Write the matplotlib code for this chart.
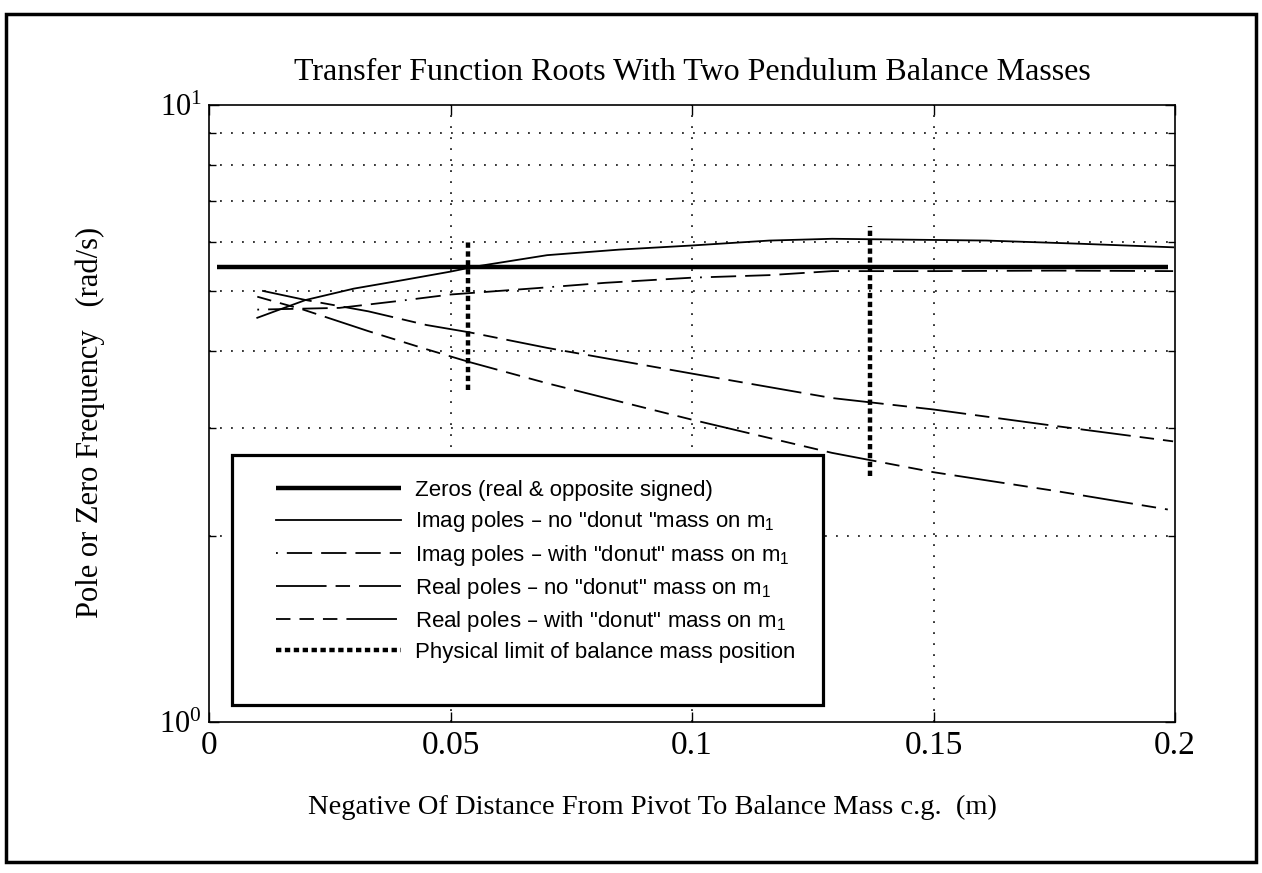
import matplotlib
matplotlib.use('Agg')
import matplotlib.pyplot as plt
from matplotlib.ticker import LogLocator, NullFormatter, FixedLocator
from matplotlib.patches import Rectangle

# データ
x_zero = [0.0017, 0.1985]
y_zero = [5.47, 5.47]

x_imag_no = [0.01, 0.02, 0.03, 0.04, 0.05, 0.055, 0.07, 0.085, 0.1, 0.116, 0.129, 0.137, 0.161, 0.18, 0.1996]
y_imag_no = [4.52, 4.83, 5.04, 5.20, 5.37, 5.47, 5.71, 5.83, 5.92, 6.03, 6.07, 6.06, 6.03, 5.96, 5.88]

x_imag_with = [0.01, 0.027, 0.04, 0.05, 0.068, 0.082, 0.1, 0.116, 0.129, 0.15, 0.175, 0.1996]
y_imag_with = [4.66, 4.69, 4.82, 4.93, 5.05, 5.15, 5.25, 5.30, 5.38, 5.38, 5.39, 5.38]

x_real_no = [0.011, 0.02, 0.033, 0.045, 0.054, 0.07, 0.1, 0.129, 0.15, 0.175, 0.1996]
y_real_no = [5.00, 4.83, 4.63, 4.40, 4.28, 4.04, 3.67, 3.35, 3.21, 3.02, 2.85]

x_real_with = [0.01, 0.0195, 0.033, 0.045, 0.054, 0.07, 0.1, 0.129, 0.15, 0.175, 0.1985]
y_real_with = [4.89, 4.66, 4.30, 4.02, 3.83, 3.54, 3.09, 2.73, 2.54, 2.37, 2.21]

# 物理的限界
limit_x = [0.0536, 0.1369]
limit_lo = [3.45, 2.50]
limit_hi = [6.03, 6.36]

x_ticks = [0, 0.05, 0.1, 0.15, 0.2]
x_ticklabels = ['0', '0.05', '0.1', '0.15', '0.2']
y_ticks = [1, 10]
y_ticklabels = [r'$\mathregular{10^0}$', r'$\mathregular{10^1}$']

labels = ['Zeros (real & opposite signed)',
          'Imag poles – no "donut "mass on m$\\mathregular{_1}$',
          'Imag poles – with "donut" mass on m$\\mathregular{_1}$',
          'Real poles – no "donut" mass on m$\\mathregular{_1}$',
          'Real poles – with "donut" mass on m$\\mathregular{_1}$',
          'Physical limit of balance mass position']

serif = 'Liberation Serif'
sans = 'Liberation Sans'

fig = plt.figure(figsize=(12.62, 8.73), dpi=100)
ax = fig.add_axes([0.1656, 0.1730, 0.7655, 0.7067])

ax.set_yscale('log')
ax.set_xlim(0, 0.2)
ax.set_ylim(1, 10)

# グリッド
dot = (0, (1.2, 6))
for xv in x_ticks[1:-1]:
    ax.axvline(xv, color='k', lw=1.1, ls=dot, zorder=1)
for yv in range(2, 10):
    ax.axhline(yv, color='k', lw=1.1, ls=dot, zorder=1)

lw = 1.3
h0, = ax.plot(x_zero, y_zero, color='k', lw=3.2, solid_capstyle='butt', zorder=3)
h1, = ax.plot(x_imag_no, y_imag_no, color='k', lw=lw, zorder=3)
h2, = ax.plot(x_imag_with, y_imag_with, color='k', lw=lw,
              ls=(0, (1, 5, 14, 5, 14, 5, 14, 5, 14, 5)), zorder=3)
h3, = ax.plot(x_real_no, y_real_no, color='k', lw=lw,
              ls=(0, (28, 5, 8, 5)), zorder=3)
h4, = ax.plot(x_real_with, y_real_with, color='k', lw=lw,
              ls=(0, (8, 5, 8, 5, 8, 5, 28, 5)), zorder=3)
for i in range(len(limit_x)):
    h5, = ax.plot([limit_x[i], limit_x[i]], [limit_lo[i], limit_hi[i]],
                  color='k', lw=3.2, ls=(0, (1.2, 0.8)), zorder=3)

# 凡例の枠
ax.add_patch(Rectangle((0.024, 0.028), 0.612, 0.405, transform=ax.transAxes,
                       facecolor='white', edgecolor='k', lw=2.3, zorder=4))
leg = ax.legend([h0, h1, h2, h3, h4, h5], labels, loc='upper left',
                bbox_to_anchor=(0.058, 0.41), frameon=False, borderpad=0,
                handlelength=5.6, handletextpad=0.65, labelspacing=0.37,
                prop={'family': sans, 'size': 16})
leg.set_zorder(5)

ax.set_xticks(x_ticks)
ax.set_xticklabels(x_ticklabels, family=serif, fontsize=24)
ax.yaxis.set_major_locator(FixedLocator(y_ticks))
ax.set_yticklabels(y_ticklabels, family=serif, fontsize=22)
ax.yaxis.set_minor_locator(LogLocator(subs=range(2, 10)))
ax.yaxis.set_minor_formatter(NullFormatter())
ax.tick_params(which='both', direction='in', top=True, right=True, width=1)
ax.tick_params(which='major', length=7)
ax.tick_params(which='minor', length=5)
ax.tick_params(axis='x', pad=6)
ax.tick_params(axis='y', pad=5)
for s in ax.spines.values():
    s.set_linewidth(1.2)

ax.set_title('Transfer Function Roots With Two Pendulum Balance Masses',
             family=serif, fontsize=23, pad=18)
ax.set_xlabel('Negative Of Distance From Pivot To Balance Mass c.g.  (m)',
              family=serif, fontsize=20.5)
ax.xaxis.set_label_coords(0.459, -0.118)
ax.set_ylabel('Pole or Zero Frequency   (rad/s)', family=serif, fontsize=22)
ax.yaxis.set_label_coords(-0.108, 0.485)

# 外枠
fig.add_artist(Rectangle((0.005, 0.013), 0.99, 0.971, transform=fig.transFigure,
                         fill=False, edgecolor='k', lw=2.5))

fig.savefig('out.png', dpi=100)
